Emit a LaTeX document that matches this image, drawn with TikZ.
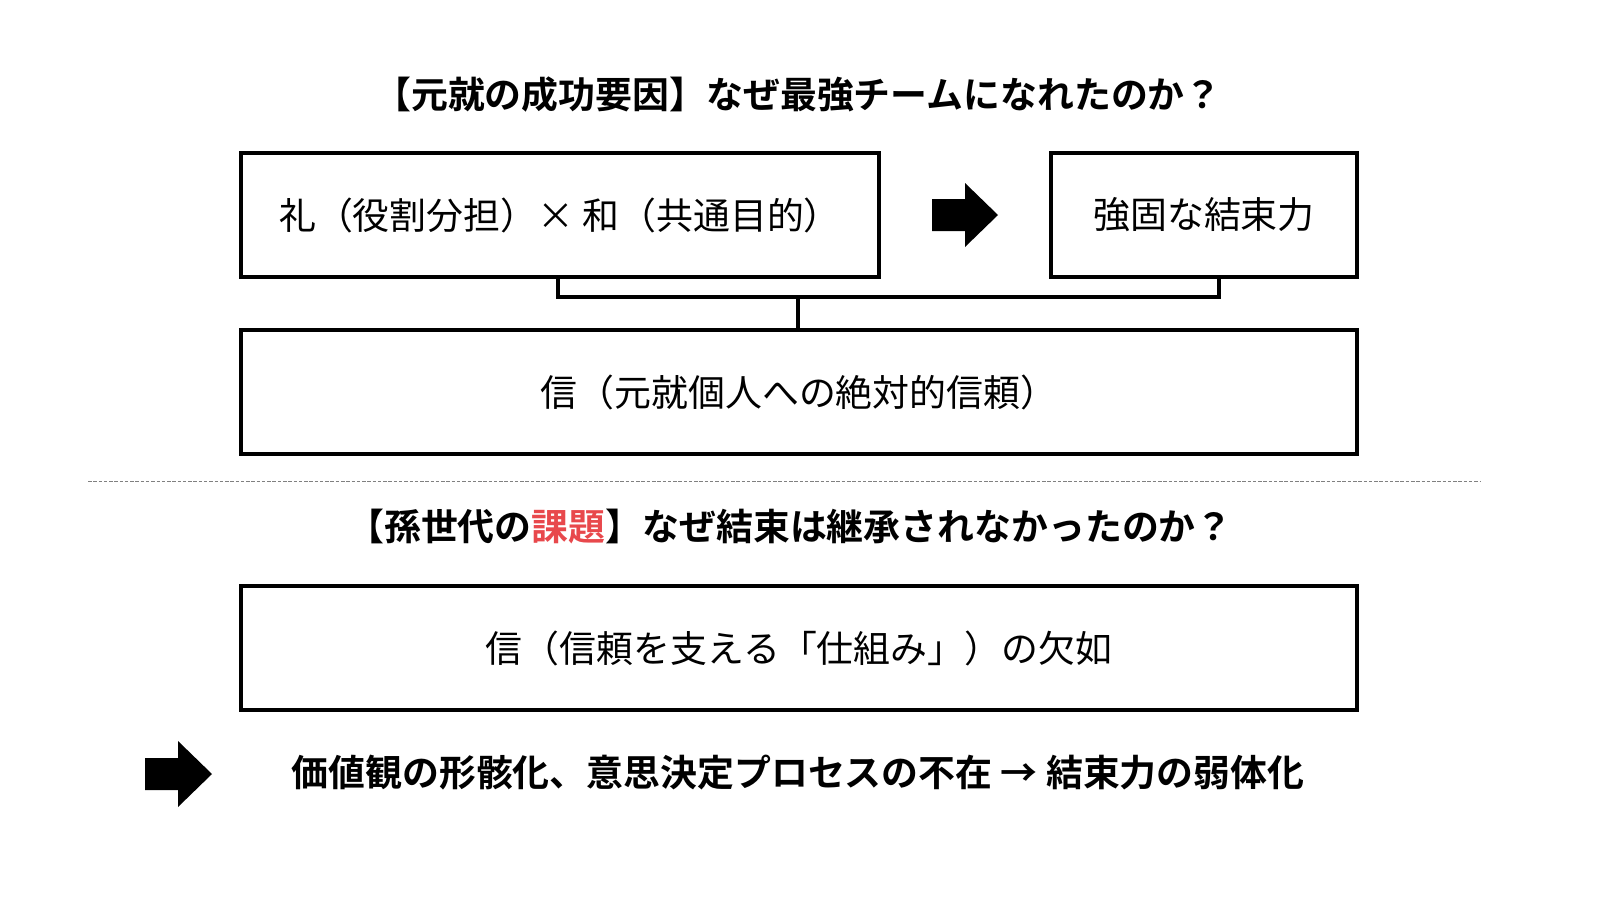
\documentclass[tikz,border=0pt]{standalone}
\usepackage{fontspec}
\setmainfont{Noto Sans CJK JP}
\newfontfamily\jpb{Noto Sans CJK JP Bold}
\begin{document}
\begin{tikzpicture}[x=0.02cm,y=-0.02cm,
  box/.style={draw,line width=1.8pt,minimum height=124*0.02cm,inner sep=0pt},
  body/.style={font=\fontsize{21}{24}\selectfont},
  head/.style={font=\jpb\fontsize{21}{24}\selectfont},
  blk/.style={fill=black}]
\useasboundingbox (0,0) rectangle (1600,900);
\node[head] (t1) at (798,95) {【元就の成功要因】なぜ最強チームになれたのか？};
\node[box,body,minimum width=638*0.02cm] (b1) at (560,215) {礼（役割分担）× 和（共通目的）};
\node[box,body,minimum width=306*0.02cm] (b2) at (1204,215) {強固な結束力};
\fill[blk] (932,199) -- (965,199) -- (965,183) -- (998,215) -- (965,247) -- (965,231) -- (932,231) -- cycle;
\node[box,body,minimum width=1116*0.02cm] (b3) at (799,392) {信（元就個人への絶対的信頼）};
\coordinate (c1) at (558,297);
\coordinate (c2) at (1219,297);
\coordinate (c3) at (798,297);
\draw[line width=1.8pt] (c1 |- b1.south) -- (c1) -- (c2) -- (c2 |- b2.south);
\draw[line width=1.8pt] (c3) -- (c3 |- b3.north);
\draw[gray,dash pattern=on 2pt off 1pt,line width=0.5pt] (88,481) -- (1480,481);
\node[head] (t2) at (790,527) {【孫世代の\textcolor[HTML]{E8484C}{課題}】なぜ結束は継承されなかったのか？};
\node[box,body,minimum width=1116*0.02cm] (b4) at (799,648) {信（信頼を支える「仕組み」）の欠如};
\fill[blk] (145,758) -- (178,758) -- (178,741) -- (212,774) -- (178,807) -- (178,790) -- (145,790) -- cycle;
\node[head] (t3) at (798,773) {価値観の形骸化、意思決定プロセスの不在 → 結束力の弱体化};
\end{tikzpicture}
\end{document}
